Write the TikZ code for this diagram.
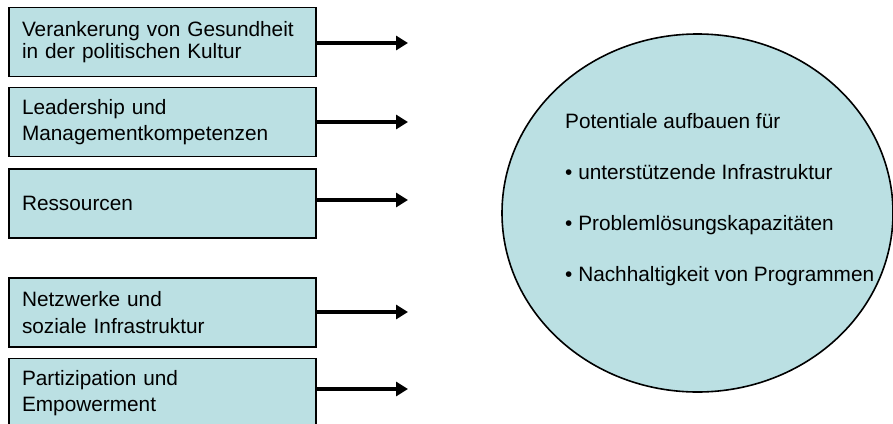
\documentclass[tikz,border=0pt]{standalone}
\usepackage{fontspec}
\setmainfont{Liberation Sans}
\usetikzlibrary{shapes.geometric,arrows.meta}
\definecolor{paleteal}{RGB}{187,224,227}
\begin{document}
\begin{tikzpicture}[x=1pt,y=-1pt,
  factor/.style={draw=black, line width=1.6pt, fill=paleteal,
    text width=281pt, inner xsep=13pt, inner ysep=0pt,
    minimum height=69pt, align=left,
    font=\fontsize{20.8}{21.5}\selectfont},
  push/.style={line width=4.5pt, -{Triangle[length=12pt,width=14pt]}},
  goal/.style={ellipse, draw=black, line width=1.6pt, fill=paleteal,
    minimum width=391pt, minimum height=358pt, inner sep=0pt}]
  \clip (0,0) rectangle (893,423);
  \path[use as bounding box] (0,0) rectangle (893,423);

  % factor boxes on the left
  \node[factor] (b1) at (162.5,42)    {Verankerung von Gesundheit\\in der politischen Kultur};
  \node[factor] (b2) at (162.5,122)   {Leadership und\\[5pt]Managementkompetenzen};
  \node[factor] (b3) at (162.5,203.5) {Ressourcen};
  \node[factor] (b4) at (162.5,312.5) {Netzwerke und\\[5pt]soziale Infrastruktur};
  \node[factor] (b5) at (162.5,393)   {Partizipation und\\[4pt]Empowerment};

  % free ends of the arrows
  \coordinate (e1) at (408,43);
  \coordinate (e2) at (408,122);
  \coordinate (e3) at (408,200);
  \coordinate (e4) at (408,312);
  \coordinate (e5) at (408,389);

  \draw[push] (b1.east |- e1) -- (e1);
  \draw[push] (b2.east |- e2) -- (e2);
  \draw[push] (b3.east |- e3) -- (e3);
  \draw[push] (b4.east |- e4) -- (e4);
  \draw[push] (b5.east |- e5) -- (e5);

  % goal ellipse
  \node[goal] (pot) at (697.5,213) {};
  \node[anchor=north west, align=left, inner sep=0pt,
        font=\fontsize{20.8}{51}\selectfont] (ptxt) at (565,113)
    {Potentiale aufbauen für\\• unterstützende Infrastruktur\\• Problemlösungskapazitäten\\• Nachhaltigkeit von Programmen};
\end{tikzpicture}
\end{document}
